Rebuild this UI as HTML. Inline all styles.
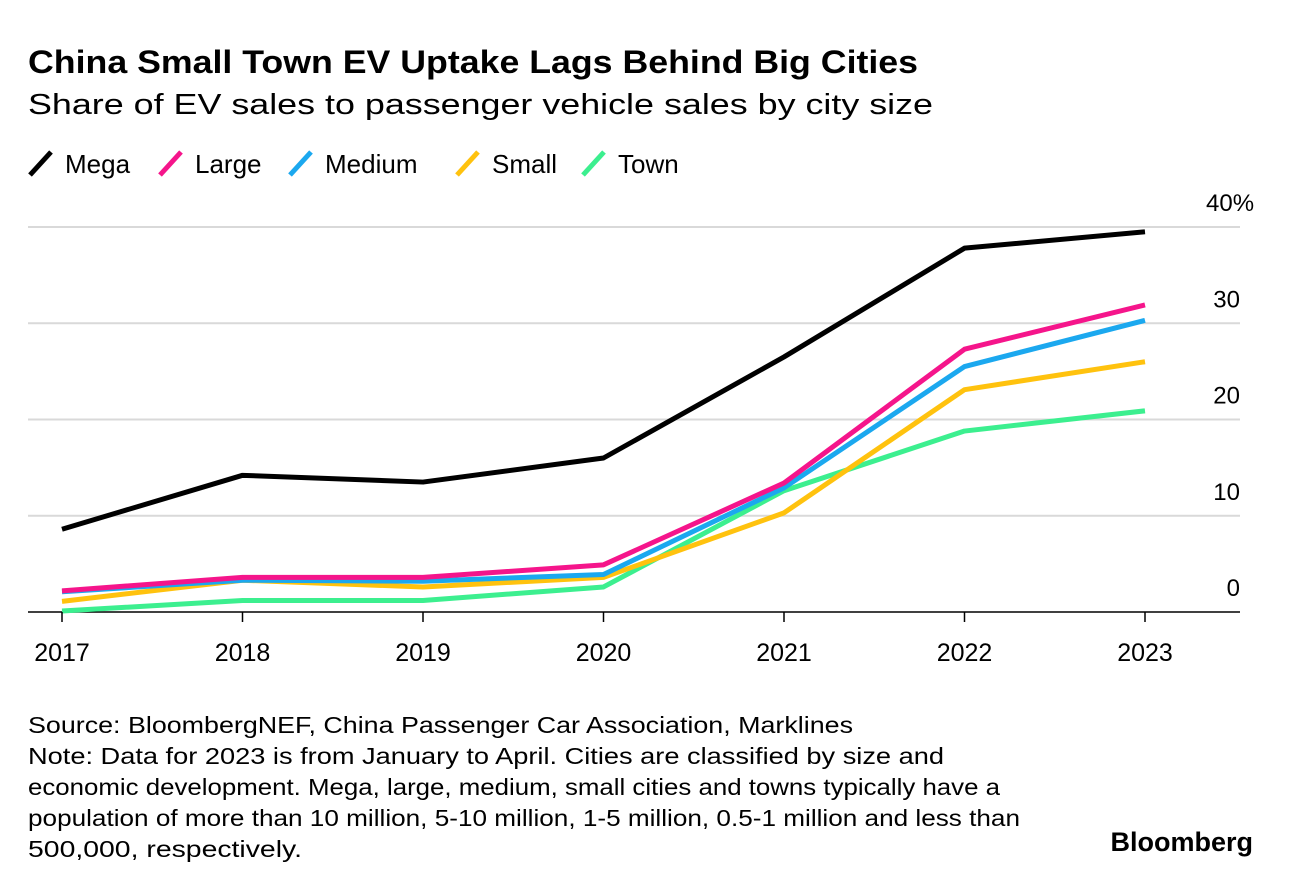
<!DOCTYPE html>
<html><head><meta charset="utf-8"><style>
body{margin:0;background:#fff;font-family:"Liberation Sans",sans-serif;}
svg{display:block}
</style></head><body>
<svg width="1293" height="886" viewBox="0 0 1293 886">
<text x="28" y="73" font-size="32" font-weight="bold" fill="#000" textLength="890" lengthAdjust="spacingAndGlyphs">China Small Town EV Uptake Lags Behind Big Cities</text>
<text x="28" y="114" font-size="29" fill="#000" textLength="905" lengthAdjust="spacingAndGlyphs">Share of EV sales to passenger vehicle sales by city size</text>
<g id="legend"></g>
<g id="grid"></g>
<g id="lines"></g>
<g id="xaxis"></g>
<g font-size="23" fill="#000">
<text x="28" y="733" textLength="825" lengthAdjust="spacingAndGlyphs">Source: BloombergNEF, China Passenger Car Association, Marklines</text>
<text x="28" y="764" textLength="916" lengthAdjust="spacingAndGlyphs">Note: Data for 2023 is from January to April. Cities are classified by size and</text>
<text x="28" y="795" textLength="972" lengthAdjust="spacingAndGlyphs">economic development. Mega, large, medium, small cities and towns typically have a</text>
<text x="28" y="826" textLength="992" lengthAdjust="spacingAndGlyphs">population of more than 10 million, 5-10 million, 1-5 million, 0.5-1 million and less than</text>
<text x="28" y="857" textLength="274" lengthAdjust="spacingAndGlyphs">500,000, respectively.</text>
</g>
<text x="1253" y="851" text-anchor="end" font-size="27" font-weight="bold" fill="#000">Bloomberg</text>
</svg>
<script>
const years=["2017","2018","2019","2020","2021","2022","2023"];
const mega=[8.6,14.2,13.5,16.0,26.5,37.8,39.5];
const large=[2.2,3.6,3.6,4.9,13.4,27.3,31.9];
const medium=[2.1,3.3,3.2,3.9,12.9,25.5,30.3];
const small=[1.1,3.3,2.6,3.6,10.3,23.1,26.0];
const town=[0.1,1.2,1.2,2.6,12.6,18.8,20.9];
const yTicks=[0,10,20,30,40];
const seriesNames=["Mega","Large","Medium","Small","Town"];
const colors=["#000000","#f5158b","#1ba8ef","#ffc20e","#3cef8f"];
const NS="http://www.w3.org/2000/svg";
const x=i=>62+i*180.5;
const y=v=>612-v*9.625;
function mk(tag,attrs,parent){const e=document.createElementNS(NS,tag);for(const k in attrs)e.setAttribute(k,attrs[k]);parent.appendChild(e);return e;}
const grid=document.getElementById('grid');
yTicks.forEach(t=>{
 const l=mk('line',{x1:28,x2:1240,y1:y(t),y2:y(t),stroke:t===0?'#000':'#d9d9d9','stroke-width':t===0?1.5:2},grid);
 
 
 const tx=mk('text',{x:1240,y:y(t)-16,'font-size':24,fill:'#000','text-anchor':'end'},grid);
 tx.textContent=String(t);
 if(t===40){tx.setAttribute('text-anchor','start');tx.setAttribute('x',1206);tx.textContent='40%';}
 
 
});
const xa=document.getElementById('xaxis');
years.forEach((yr,i)=>{
 const tk=mk('line',{x1:x(i),x2:x(i),y1:612,y2:622,stroke:'#000','stroke-width':1.5},xa);
 
 
 const t=mk('text',{x:x(i),y:661,'font-size':25,'text-anchor':'middle',fill:'#000'},xa);
 t.textContent=yr;
 
 
});
const data=[mega,large,medium,small,town];
const lg=document.getElementById('lines');
for(let s=data.length-1;s>=0;s--){
 const p=mk('polyline',{points:data[s].map((v,i)=>x(i)+','+y(v)).join(' '),fill:'none',stroke:colors[s],'stroke-width':5,'stroke-linejoin':'round'},lg);
 
 
}
const leg=document.getElementById('legend');
const lx=[30,160,290,457,583];
seriesNames.forEach((n,i)=>{
 const g=mk('g',{},leg);
 
 
 mk('line',{x1:lx[i],y1:175,x2:lx[i]+21,y2:152,stroke:colors[i],'stroke-width':5},g);
 const t=mk('text',{x:lx[i]+35,y:173,'font-size':26,fill:'#000'},g);
 t.textContent=n;
});
</script>
</body></html>
